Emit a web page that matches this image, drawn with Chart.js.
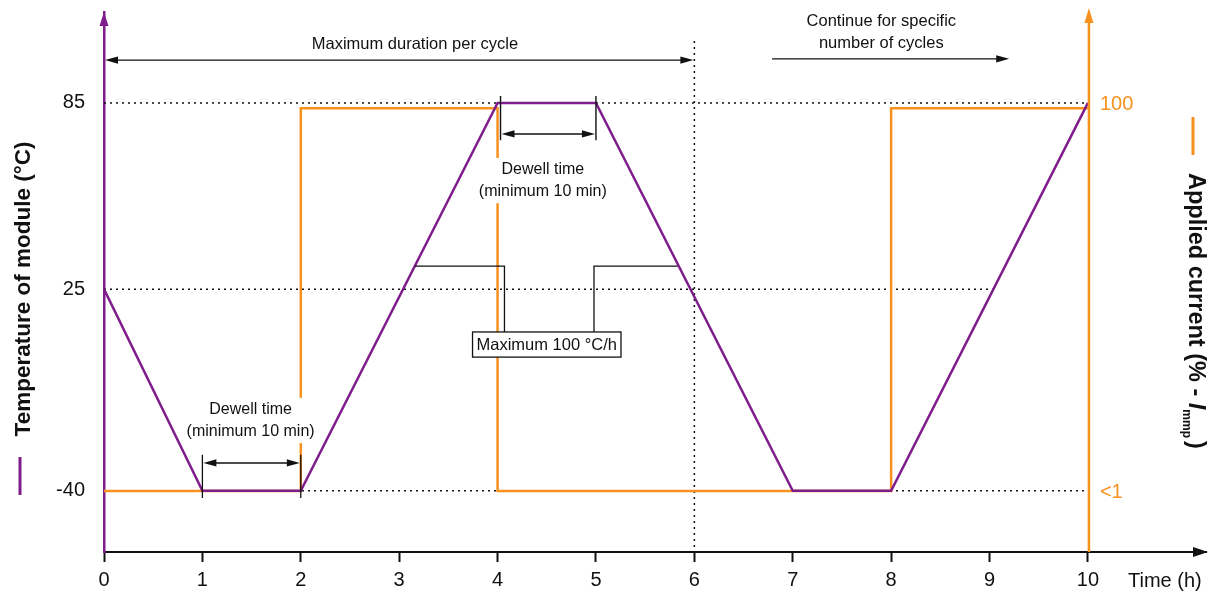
<!DOCTYPE html>
<html>
<head>
<meta charset="utf-8">
<script src="https://cdn.jsdelivr.net/npm/chart.js@4/dist/chart.umd.min.js"></script>
<style>
  html, body { margin: 0; padding: 0; background: #fff; }
  #wrap { width: 1221px; height: 596px; position: relative; }
</style>
</head>
<body>
<div id="wrap"><canvas id="cycleChart"></canvas></div>
<script>
// axis ticks
const timeTicks = [0, 1, 2, 3, 4, 5, 6, 7, 8, 9, 10];
const tempTicks = [85, 25, -40];
const currentTicks = [0, 100];
const currentTickLabels = ['<1', '100'];

// module temperature (°C) vs time (h)
const tempTime = [0, 1, 2, 4, 5, 7, 8, 10];
const tempValues = [25, -40, -40, 85, 85, -40, -40, 85];

// applied current (% of Imp) vs time (h)
const currentTime = [0, 2, 2, 4, 4, 8, 8, 10];
const currentValues = [0, 0, 100, 100, 0, 0, 100, 100];

// dotted guide lines: level and where they stop
const guideLevels = [85, 25, -40];
const guideEnds = [10, 9.04, 10];
const cycleEnd = 6;

const PURPLE = '#7e1d8b';
const ORANGE = '#f7921e';
const INK = '#111';
const FONT = "'Liberation Sans', Arial, sans-serif";

const toPoints = (xs, ys) => xs.map((t, i) => ({ x: t, y: ys[i] }));

const guideSets = guideLevels.map((lv, i) => ({
  data: [{ x: 0, y: lv }, { x: guideEnds[i], y: lv }],
  borderColor: INK, borderWidth: 1.5, borderDash: [2, 4],
  pointRadius: 0, showLine: true, order: 3, yAxisID: 'y'
}));
guideSets.push({
  data: [{ x: cycleEnd, y: -60 }, { x: cycleEnd, y: 105.3 }],
  borderColor: INK, borderWidth: 1.5, borderDash: [2, 4],
  pointRadius: 0, showLine: true, order: 3, yAxisID: 'y'
});

function head(ctx, tx, ty, dx, dy, len, half) {
  ctx.beginPath();
  ctx.moveTo(tx, ty);
  ctx.lineTo(tx - dx * len - dy * half, ty - dy * len + dx * half);
  ctx.lineTo(tx - dx * len + dy * half, ty - dy * len - dx * half);
  ctx.closePath();
  ctx.fill();
}

function hArrow(ctx, x1, x2, y, both) {
  ctx.strokeStyle = INK; ctx.fillStyle = INK; ctx.lineWidth = 1.4;
  ctx.beginPath(); ctx.moveTo(x1 + (both ? 6 : 0), y); ctx.lineTo(x2 - 6, y); ctx.stroke();
  head(ctx, x2, y, 1, 0, 13, 3.6);
  if (both) head(ctx, x1, y, -1, 0, 13, 3.6);
}

function textLines(ctx, lines, cx, ys, size, bg) {
  ctx.font = size + 'px ' + FONT;
  ctx.textAlign = 'center';
  ctx.textBaseline = 'middle';
  if (bg) {
    const w = Math.max(...lines.map(l => ctx.measureText(l).width));
    ctx.fillStyle = '#fff';
    ctx.fillRect(cx - w / 2 - 2, ys[0] - size * 0.75, w + 4, ys[ys.length - 1] - ys[0] + size * 1.45);
  }
  ctx.fillStyle = INK;
  lines.forEach((l, i) => ctx.fillText(l, cx, ys[i]));
}

const overlay = {
  id: 'overlay',
  afterDraw(chart) {
    const { ctx, chartArea } = chart;
    const sx = chart.scales.x, sy = chart.scales.y, sc = chart.scales.y2;
    const px = t => sx.getPixelForValue(t);
    const py = v => sy.getPixelForValue(v);
    ctx.save();

    // axis arrow heads
    ctx.fillStyle = PURPLE;
    head(ctx, chartArea.left, chartArea.top, 0, -1, 14, 4.5);
    ctx.fillStyle = INK;
    head(ctx, chartArea.right + 2, chartArea.bottom, 1, 0, 15, 5);

    // current axis on the right
    const rx = px(10) + 1;
    ctx.strokeStyle = ORANGE; ctx.lineWidth = 2.5;
    ctx.beginPath(); ctx.moveTo(rx, chartArea.bottom); ctx.lineTo(rx, 20); ctx.stroke();
    ctx.fillStyle = ORANGE;
    head(ctx, rx, 8, 0, -1, 15, 4.5);
    ctx.font = '20px ' + FONT;
    ctx.textAlign = 'left'; ctx.textBaseline = 'middle';
    currentTicks.forEach((v, i) => {
      ctx.fillText(currentTickLabels[i], rx + 11, sc.getPixelForValue(v) + (v > 50 ? -4 : 1));
    });

    // top annotations
    hArrow(ctx, px(0) + 1, px(cycleEnd) - 1, py(98.8), true);
    textLines(ctx, ['Maximum duration per cycle'], px(3.16), [py(104)], 16.5, false);
    hArrow(ctx, px(6.79), px(9.2), py(99.2), false);
    textLines(ctx, ['Continue for specific', 'number of cycles'], px(7.9), [py(111.4), py(104.3)], 16.5, false);

    // dwell time markers
    ctx.strokeStyle = INK; ctx.lineWidth = 1.3;
    [[1, 2, -28.4, -42.3, -31], [4.03, 5, 87.2, 73.0, 75]].forEach(d => {
      ctx.beginPath();
      ctx.moveTo(px(d[0]), py(d[2])); ctx.lineTo(px(d[0]), py(d[3]));
      ctx.moveTo(px(d[1]), py(d[2])); ctx.lineTo(px(d[1]), py(d[3]));
      ctx.stroke();
      hArrow(ctx, px(d[0]) + 1, px(d[1]) - 1, py(d[4]), true);
    });
    textLines(ctx, ['Dewell time', '(minimum 10 min)'], px(1.49), [py(-13.9), py(-21.0)], 16, true);
    textLines(ctx, ['Dewell time', '(minimum 10 min)'], px(4.46), [py(63.4), py(56.3)], 16, true);

    // ramp rate callout
    ctx.strokeStyle = INK; ctx.lineWidth = 1.3;
    ctx.beginPath();
    ctx.moveTo(px(3.16), py(32.4)); ctx.lineTo(px(4.07), py(32.4)); ctx.lineTo(px(4.07), py(11.2));
    ctx.moveTo(px(4.98), py(11.2)); ctx.lineTo(px(4.98), py(32.4)); ctx.lineTo(px(5.83), py(32.4));
    ctx.stroke();
    ctx.font = '16.5px ' + FONT;
    const label = 'Maximum 100 \u00B0C/h';
    const bw = ctx.measureText(label).width + 8;
    const bx = px(4.5) - bw / 2, by = py(11.2), bh = py(3.1) - py(11.2);
    ctx.fillStyle = '#fff'; ctx.fillRect(bx, by, bw, bh);
    ctx.strokeRect(bx, by, bw, bh);
    ctx.fillStyle = INK; ctx.textAlign = 'center'; ctx.textBaseline = 'middle';
    ctx.fillText(label, px(4.5), by + bh / 2 + 1);

    // axis titles
    ctx.fillStyle = INK;
    ctx.font = '20px ' + FONT; ctx.textAlign = 'left';
    ctx.fillText('Time (h)', 1128, 581);

    ctx.save();
    ctx.translate(24, 289); ctx.rotate(-Math.PI / 2);
    ctx.font = 'bold 22.5px ' + FONT; ctx.textAlign = 'center';
    ctx.fillText('Temperature of module (\u00B0C)', 0, 0);
    ctx.restore();
    ctx.strokeStyle = PURPLE; ctx.lineWidth = 3;
    ctx.beginPath(); ctx.moveTo(20, 457); ctx.lineTo(20, 495); ctx.stroke();

    ctx.strokeStyle = ORANGE;
    ctx.beginPath(); ctx.moveTo(1193, 117); ctx.lineTo(1193, 155); ctx.stroke();
    ctx.save();
    ctx.translate(1195, 173); ctx.rotate(Math.PI / 2);
    ctx.textAlign = 'left'; ctx.textBaseline = 'middle'; ctx.fillStyle = INK;
    let cx = 0;
    const part = (s, f, dy) => { ctx.font = f; ctx.fillText(s, cx, dy); cx += ctx.measureText(s).width; };
    part('Applied current (% - ', 'bold 23.5px ' + FONT, 0);
    part('I', 'italic bold 23.5px ' + FONT, 0);
    part('mmp', 'bold 12px ' + FONT, 9);
    cx += 3;
    part(')', 'bold 23.5px ' + FONT, 0);
    ctx.restore();

    ctx.restore();
  }
};

new Chart(document.getElementById('cycleChart').getContext('2d'), {
  type: 'scatter',
  data: {
    datasets: [
      {
        label: 'Temperature of module',
        data: toPoints(tempTime, tempValues),
        borderColor: PURPLE, borderWidth: 2.5, showLine: true,
        pointRadius: 0, order: 0, yAxisID: 'y'
      },
      {
        label: 'Applied current',
        data: toPoints(currentTime, currentValues),
        borderColor: ORANGE, borderWidth: 2.5, showLine: true,
        pointRadius: 0, order: 1, yAxisID: 'y2'
      },
      ...guideSets
    ]
  },
  options: {
    responsive: true,
    maintainAspectRatio: false,
    animation: false,
    devicePixelRatio: 1,
    layout: { padding: { top: 12, right: 15, left: 0, bottom: 0 } },
    plugins: { legend: { display: false }, tooltip: { enabled: false } },
    scales: {
      x: {
        type: 'linear', min: 0, max: 11.2,
        afterBuildTicks: s => { s.ticks = timeTicks.map(v => ({ value: v })); },
        afterFit: s => { s.height = 44; s.paddingLeft = 0; s.paddingRight = 0; },
        border: { color: INK, width: 2 },
        grid: { drawOnChartArea: false, tickLength: 10, tickWidth: 2, tickColor: INK },
        ticks: { color: INK, font: { family: FONT, size: 20 }, padding: 6, maxRotation: 0 }
      },
      y: {
        type: 'linear', position: 'left', min: -59.7, max: 114.3,
        afterBuildTicks: s => { s.ticks = tempTicks.map(v => ({ value: v })); },
        afterFit: s => { s.width = 104; s.paddingTop = 0; s.paddingBottom = 0; },
        border: { color: PURPLE, width: 2.5 },
        grid: { drawOnChartArea: false, drawTicks: false },
        ticks: { color: INK, font: { family: FONT, size: 20 }, padding: 19 }
      },
      y2: {
        type: 'linear', display: false, min: -15.9, max: 125.1
      }
    }
  },
  plugins: [overlay]
});
</script>
</body>
</html>
